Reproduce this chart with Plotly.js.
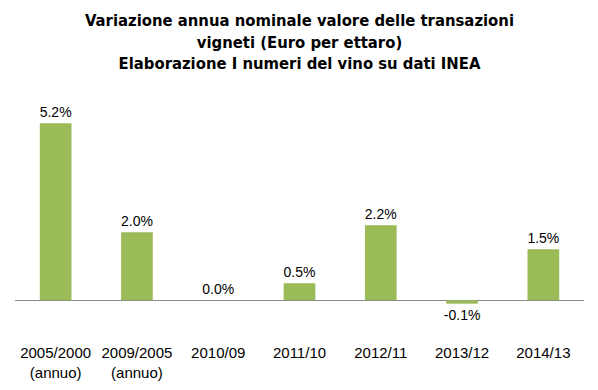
<!DOCTYPE html>
<html><head><meta charset="utf-8">
<script src="https://cdn.plot.ly/plotly-3.0.1.min.js"></script>
<style>body{margin:0;padding:0;background:#fff}#chart{width:598px;height:390px}</style>
</head><body><div id="chart"></div>
<script>
const categories = ["2005/2000<br>(annuo)", "2009/2005<br>(annuo)", "2010/09", "2011/10", "2012/11", "2013/12", "2014/13"];
const values = [5.2, 2.0, 0.0, 0.5, 2.2, -0.1, 1.5];
const labels = ["5.2%", "2.0%", "0.0%", "0.5%", "2.2%", "-0.1%", "1.5%"];

const trace = {
  type: 'bar', x: categories, y: values, text: labels,
  textposition: 'outside', cliponaxis: false, constraintext: 'none',
  textfont: {family: 'Liberation Sans, Arial, sans-serif', size: 14, color: '#000'},
  marker: {color: '#9BBB59', line: {width: 0}},
  width: 0.39, hoverinfo: 'none'
};
const layout = {
  width: 598, height: 390,
  margin: {l: 15, r: 14, t: 100, b: 55},
  paper_bgcolor: '#fff', plot_bgcolor: '#fff',
  showlegend: false,
  title: {text: 'Variazione annua nominale valore delle transazioni<br>vigneti (Euro per ettaro)<br>Elaborazione I numeri del vino su dati INEA',
    font: {family: 'DejaVu Sans Condensed, Liberation Sans Narrow, sans-serif', size: 16.5, color: '#000', weight: 'bold'},
    x: 0.5, xanchor: 'center', xref: 'paper', yref: 'container', y: 0.933, yanchor: 'middle'},
  xaxis: {type: 'category', showline: false, showgrid: false, ticks: '', ticklabelstandoff: 7,
    tickfont: {family: 'Liberation Sans, Arial, sans-serif', size: 15, color: '#000'}},
  yaxis: {range: [-1.02, 5.88], showticklabels: false, showgrid: false, showline: false,
    zeroline: true, zerolinecolor: '#888', zerolinewidth: 1, ticks: ''}
};
Plotly.newPlot('chart', [trace], layout, {displayModeBar: false, staticPlot: true});
</script></body></html>
